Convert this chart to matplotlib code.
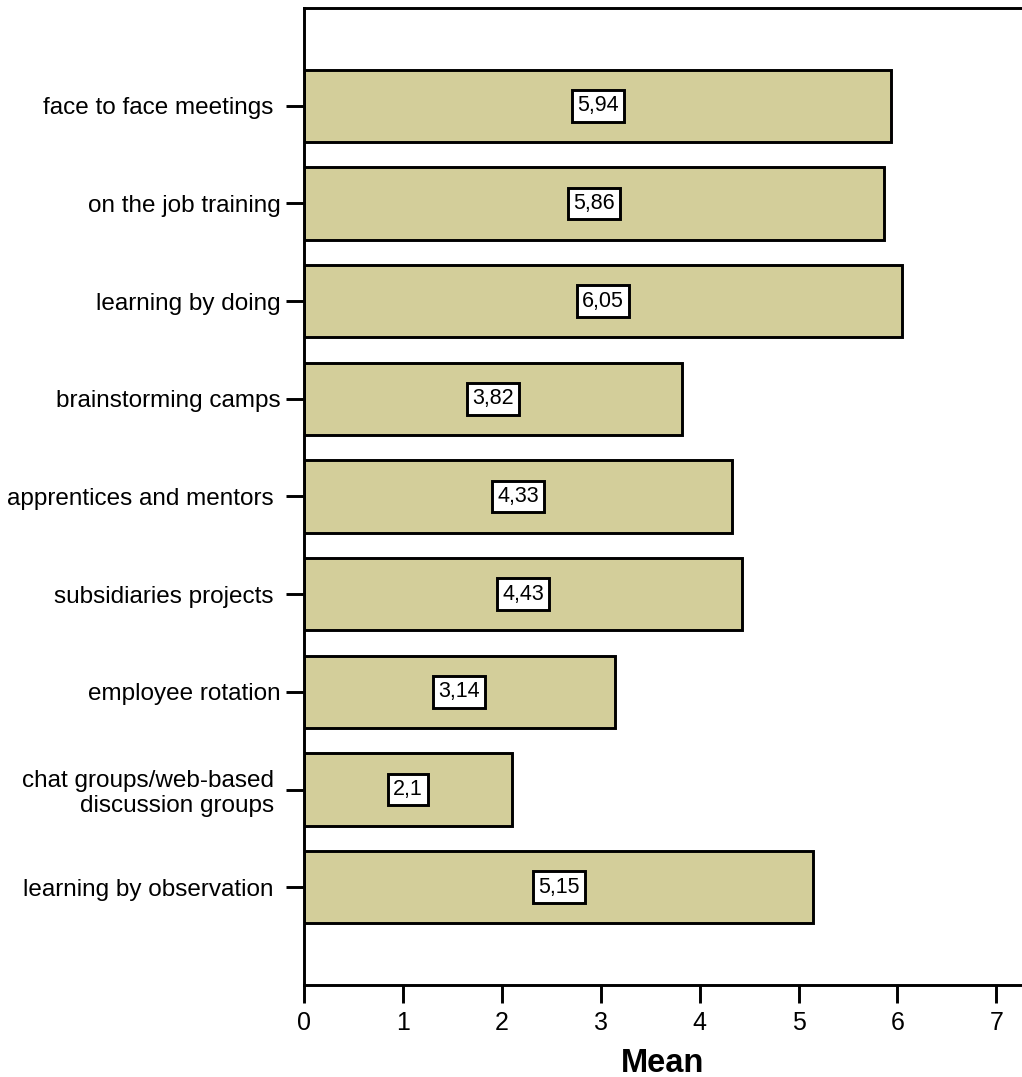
import matplotlib
matplotlib.use("Agg")
import matplotlib.pyplot as plt

plt.rcParams['font.family'] = ['Liberation Sans', 'DejaVu Sans']

categories = [
    "face to face meetings ",
    "on the job training",
    "learning by doing",
    "brainstorming camps",
    "apprentices and mentors ",
    "subsidiaries projects ",
    "employee rotation",
    "chat groups/web-based \ndiscussion groups ",
    "learning by observation ",
]
means = [5.94, 5.86, 6.05, 3.82, 4.33, 4.43, 3.14, 2.1, 5.15]
value_labels = ["5,94", "5,86", "6,05", "3,82", "4,33", "4,43", "3,14", "2,1", "5,15"]

bar_color = "#D3CE9A"
lw = 2.1

fig = plt.figure(figsize=(10.22, 10.77), dpi=100)
ax = fig.add_axes([304 / 1022, 92 / 1077, 1 - 304 / 1022, (985 - 8) / 1077])

pos = list(range(len(categories)))
ax.barh(pos, means, height=0.74, color=bar_color, edgecolor="black", linewidth=lw)

for y, v, lab in zip(pos, means, value_labels):
    ax.text(v / 2, y, lab, ha="center", va="center", fontsize=15.5,
            bbox=dict(boxstyle="square,pad=0.25", facecolor="white",
                      edgecolor="black", linewidth=lw))

ax.set_ylim(len(categories), -1)
ax.set_xlim(0, (1022 - 304) / 98.9)
ax.set_xticks(range(0, 8))
ax.set_yticks(pos)
ax.set_yticklabels(categories, fontsize=17.5, ha="right")
ax.tick_params(axis="x", labelsize=18, length=13, width=lw, pad=6)
ax.tick_params(axis="y", length=13, width=lw, pad=4)

for side in ["left", "bottom", "top"]:
    ax.spines[side].set_linewidth(lw)
ax.spines["right"].set_visible(False)

ax.set_xlabel("Mean", fontsize=23.5, fontweight="bold", labelpad=9)

fig.savefig("out.png", dpi=100)
